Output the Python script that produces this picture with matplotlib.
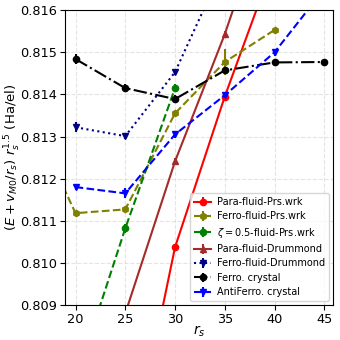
import matplotlib
matplotlib.use("Agg")
import matplotlib.pyplot as plt

# r_s values and energies
rs_para_prs = [25, 30, 35, 40]
e_para_prs = [0.80467, 0.81037, 0.81395, 0.81718]
err_para_prs = [0.00005, 0.00005, 0.00005, 0.00005]

rs_ferro_prs = [15, 20, 25, 30, 35, 40]
e_ferro_prs = [0.81370, 0.81118, 0.81127, 0.81355, 0.81477, 0.81553]
err_ferro_prs = [0.00005, 0.00005, 0.00005, 0.00005, 0.00030, 0.00005]

rs_zeta_prs = [20, 25, 30]
e_zeta_prs = [0.80720, 0.81082, 0.81415]
err_zeta_prs = [0.00005, 0.00010, 0.00010]

rs_para_dr = [25, 30, 35, 40]
e_para_dr = [0.80880, 0.81241, 0.81543, 0.81890]
err_para_dr = [0.00005, 0.00008, 0.00008, 0.00005]

rs_ferro_dr = [20, 25, 30, 35]
e_ferro_dr = [0.81322, 0.81301, 0.81453, 0.81711]
err_ferro_dr = [0.00012, 0.00008, 0.00008, 0.00005]

rs_ferro_cr = [20, 25, 30, 35, 40, 45]
e_ferro_cr = [0.81484, 0.81415, 0.81389, 0.81457, 0.81476, 0.81477]
err_ferro_cr = [0.00012, 0.00010, 0.00010, 0.00008, 0.00005, 0.00005]

rs_anti_cr = [20, 25, 30, 35, 40, 45]
e_anti_cr = [0.81180, 0.81165, 0.81305, 0.81398, 0.81500, 0.81650]
err_anti_cr = [0.00008, 0.00012, 0.00008, 0.00008, 0.00008, 0.00005]

series = [
    (rs_para_prs, e_para_prs, err_para_prs, "red", "-", "o", "Para-fluid-Prs.wrk"),
    (rs_ferro_prs, e_ferro_prs, err_ferro_prs, "olive", "--", "h", "Ferro-fluid-Prs.wrk"),
    (rs_zeta_prs, e_zeta_prs, err_zeta_prs, "green", "--", "o", r"$\zeta=0.5$-fluid-Prs.wrk"),
    (rs_para_dr, e_para_dr, err_para_dr, "brown", "-", "^", "Para-fluid-Drummond"),
    (rs_ferro_dr, e_ferro_dr, err_ferro_dr, "navy", ":", "v", "Ferro-fluid-Drummond"),
    (rs_ferro_cr, e_ferro_cr, err_ferro_cr, "black", "-.", "o", "Ferro. crystal"),
    (rs_anti_cr, e_anti_cr, err_anti_cr, "blue", "--", "v", "AntiFerro. crystal"),
]

fig = plt.figure(figsize=(3.4, 3.4), dpi=100)
ax = fig.add_axes([0.19, 0.103, 0.79, 0.867])

for rs, e, err, col, ls, mk, lab in series:
    ax.errorbar(rs, e, yerr=err, color=col, linestyle=ls, marker=mk,
                markersize=4.5, linewidth=1.5, elinewidth=1.5, capsize=0,
                label=lab)

ax.set_xlim(18.9, 45.9)
ax.set_ylim(0.809, 0.816)
ax.set_xticks([20, 25, 30, 35, 40, 45])
ax.set_yticks([0.809, 0.810, 0.811, 0.812, 0.813, 0.814, 0.815, 0.816])
ax.tick_params(labelsize=9.3, pad=2)
ax.grid(True, linestyle="--", color="lightgray", alpha=0.6)
ax.set_xlabel(r"$r_s$", fontsize=10)
ax.set_ylabel(r"$(E + v_{M0}/r_s)\ r_s^{1.5}$ (Ha/el)", fontsize=9.5)
ax.xaxis.set_label_coords(0.5, -0.062)
ax.yaxis.set_label_coords(-0.155, 0.5)
ax.legend(loc="lower right", fontsize=7, handlelength=1.8,
          borderaxespad=0.4, labelspacing=0.45, handletextpad=0.6)

fig.savefig("out.png", dpi=100)
